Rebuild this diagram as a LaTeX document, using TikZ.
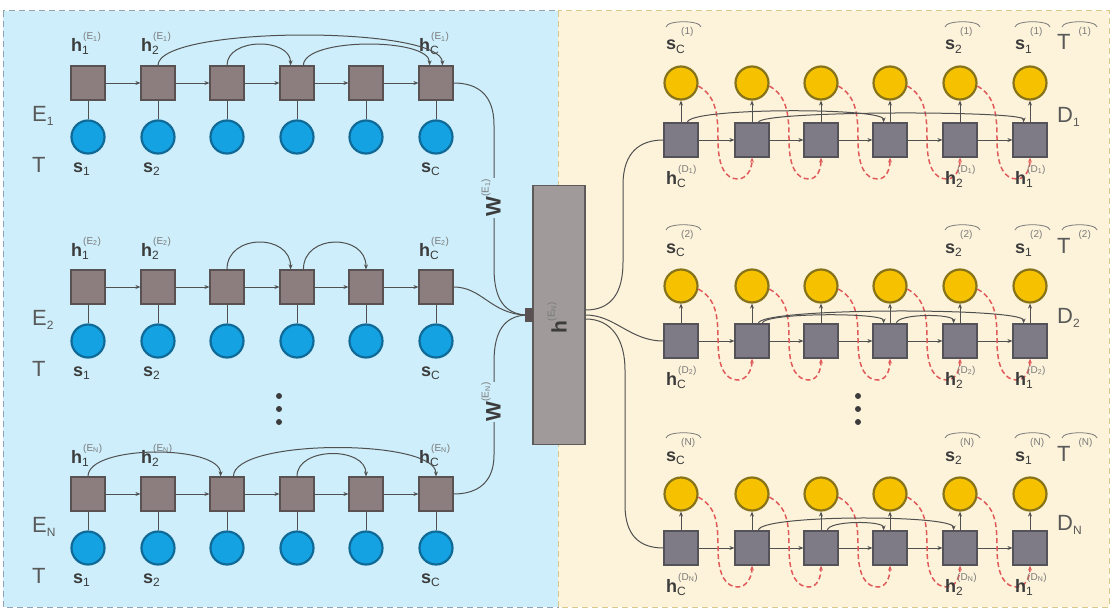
\documentclass[tikz,border=0pt]{standalone}
\usepackage{fontspec}
\setmainfont{Liberation Sans}
\usetikzlibrary{arrows.meta}
\definecolor{lblue}{HTML}{CDEEFA}
\definecolor{lyel}{HTML}{FDF3DA}
\definecolor{bdash}{HTML}{8FA3B0}
\definecolor{ydash}{HTML}{D8C98A}
\definecolor{ebfill}{HTML}{8C7E7E}
\definecolor{ebdraw}{HTML}{5A5252}
\definecolor{dbfill}{HTML}{7E7A86}
\definecolor{dbdraw}{HTML}{55535A}
\definecolor{bcfill}{HTML}{15A2E2}
\definecolor{bcdraw}{HTML}{106A98}
\definecolor{ycfill}{HTML}{F6C200}
\definecolor{ycdraw}{HTML}{86731A}
\definecolor{connc}{HTML}{505050}
\definecolor{redd}{HTML}{E05A5A}
\definecolor{txt}{HTML}{3C3C3C}
\definecolor{supc}{HTML}{7A7A7A}
\definecolor{hfill}{HTML}{A09A9A}
\definecolor{hdraw}{HTML}{5E5A5A}
\newcommand{\supf}{\fontsize{10}{10}\selectfont\color{supc}}
\newcommand{\subf}{\fontsize{12}{12}\selectfont}
\newcommand{\hlab}[3]{\textbf{#1}\rlap{\raisebox{12pt}{\hspace{1pt}\supf(#3)}}\raisebox{-3pt}{\subf #2}}
\newcommand{\hatlab}[3]{\textbf{#1}\rlap{\raisebox{16pt}{\hspace{5pt}\supf(#3)}}\raisebox{-3pt}{\subf #2}}
\begin{document}
\begin{tikzpicture}[x=1pt,y=-1pt,
  ebox/.style={draw=ebdraw, fill=ebfill, line width=1.2pt, minimum size=34pt, inner sep=0pt},
  dbox/.style={draw=dbdraw, fill=dbfill, line width=1.2pt, minimum size=34pt, inner sep=0pt},
  bcirc/.style={circle, draw=bcdraw, fill=bcfill, line width=2.2pt, minimum size=33pt, inner sep=0pt},
  ycirc/.style={circle, draw=ycdraw, fill=ycfill, line width=2.2pt, minimum size=33pt, inner sep=0pt},
  conn/.style={draw=connc, line width=1pt},
  arr/.style={-{Stealth[length=5pt,width=4pt]}},
  reddash/.style={draw=redd, line width=1.5pt, dash pattern=on 5pt off 3pt, -{Stealth[length=5pt,width=4pt]}},
  lab/.style={anchor=base west, inner sep=0pt, text=txt, font=\fontsize{18}{18}\selectfont},
  biglab/.style={anchor=base west, inner sep=0pt, text=txt!85, font=\fontsize{22}{22}\selectfont},
  hatarc/.style={draw=supc, line width=0.8pt},
  wlab/.style={rotate=90, inner sep=1pt, text=txt, font=\fontsize{21}{21}\selectfont}
]
\useasboundingbox (0,0) rectangle (1116,610);
\fill[white] (0,0) rectangle (1116,610);
\filldraw[fill=lblue, draw=bdash, line width=1pt, dash pattern=on 6pt off 4pt] (3,11) rectangle (558,607);
\filldraw[fill=lyel, draw=ydash, line width=1pt, dash pattern=on 6pt off 4pt] (558,11) rectangle (1109,607);

% ---------------- encoders
\foreach \rr/\by/\cy/\nn in {1/83/137/1,2/287/341/2,3/494/548/N}{
  \foreach \i/\x in {1/88,2/158,3/227,4/297,5/366,6/436}{
    \node[ebox] (e\rr\i) at (\x,\by) {};
    \node[bcirc] (es\rr\i) at (\x,\cy) {};
    \draw[conn] (es\rr\i) -- (e\rr\i);
  }
  \foreach \i/\j in {1/2,2/3,3/4,4/5,5/6} \draw[conn,arr] (e\rr\i) -- (e\rr\j);
  \foreach \i/\x/\sb in {1/88/1,2/158/2,6/436/C}{
    \node[lab] (eh\rr\i) at (\x-17,\by-31) {\hlab{h}{\sb}{E\textsubscript{\nn}}};
    \node[lab] (esl\rr\i) at (\x-15,\cy+35) {\textbf{s}\raisebox{-3pt}{\subf \sb}};
  }
  \node[biglab] (E\rr) at (32,\cy-16) {E\raisebox{-4pt}{\subf\nn}};
  \node[biglab] (T\rr) at (32,\cy+35) {T};
}
% encoder skip arcs
\draw[conn,arr] (e12.north) .. controls +(0,-40) and +(0,-40) .. (e16.70);
\draw[conn,arr] (e13.north) .. controls +(0,-28) and +(0,-28) .. (e14.110);
\draw[conn,arr] (e14.70) .. controls +(0,-28) and +(0,-28) .. (e16.110);
\draw[conn,arr] (e23.north) .. controls +(0,-36) and +(0,-36) .. (e24.110);
\draw[conn,arr] (e24.70) .. controls +(0,-36) and +(0,-36) .. (e25.north);
\draw[conn,arr] (e31.north) .. controls +(0,-32) and +(0,-32) .. (e33.110);
\draw[conn,arr] (e33.70) .. controls +(0,-38) and +(0,-38) .. (e36.north);
\draw[conn,arr] (e34.north) .. controls +(0,-30) and +(0,-30) .. (e35.north);

% ---------------- central code
\node[draw=hdraw, fill=hfill, line width=1.2pt, minimum width=52pt, minimum height=259pt, inner sep=0pt] (H) at (559,315) {};
\node[fill=ebdraw, minimum width=8pt, minimum height=14pt, inner sep=0pt] (Hin) at (529,315) {};
\node[wlab] (Hlab) at (557,318) {\textbf{h}\raisebox{12pt}{\supf(E\textsubscript{N})}};

\draw[conn] (e16.east) .. controls (478,83) and (494,95) .. (494,125) -- (494,268) .. controls (494,300) and (505,313) .. (Hin.west);
\draw[conn] (e26.east) .. controls (482,287) and (490,313) .. (Hin.west);
\draw[conn] (e36.east) .. controls (478,494) and (494,482) .. (494,455) -- (494,362) .. controls (494,330) and (505,317) .. (Hin.west);
\node[wlab, fill=lblue] (W1) at (491,198) {\textbf{W}\raisebox{12pt}{\supf(E\textsubscript{1})}};
\node[wlab, fill=lblue] (WN) at (491,402) {\textbf{W}\raisebox{12pt}{\supf(E\textsubscript{N})}};

% ---------------- decoders
\foreach \rr/\by/\cy/\nn in {1/140/83/1,2/341/286/2,3/548/494/N}{
  \foreach \i/\x in {1/681,2/752,3/821,4/890,5/960,6/1030}{
    \node[dbox] (d\rr\i) at (\x,\by) {};
    \node[ycirc] (dc\rr\i) at (\x,\cy) {};
    \draw[conn,arr] (d\rr\i) -- (dc\rr\i);
  }
  \foreach \i/\j in {1/2,2/3,3/4,4/5,5/6} \draw[conn,arr] (d\rr\i) -- (d\rr\j);
  \foreach \i/\j/\x in {1/2/681,2/3/752,3/4/821,4/5/890,5/6/960}
    \draw[reddash] (dc\rr\i.-10) .. controls +(18,10) and +(0,-25) .. (\x+37,\by) .. controls +(0,28) and +(-12,0) .. (\x+57,\by+39) .. controls +(8,0) and +(0,12) .. (d\rr\j.south);
  \foreach \i/\x/\sb in {1/681/C,5/960/2,6/1030/1}{
    \node[lab] (dsl\rr\i) at (\x-15,\cy-33) {\hatlab{s}{\sb}{\nn}};
    \draw[hatarc] ([shift={(0,-23)}]dsl\rr\i.base west) .. controls +(1,-7) and +(-1,-7) .. ++(35,0);
    \node[lab] (dhl\rr\i) at (\x-15,\by+44) {\hlab{h}{\sb}{D\textsubscript{\nn}}};
  }
  \node[biglab] (TT\rr) at (1057,\cy-33) {T\hspace{8pt}\raisebox{16pt}{\supf(\nn)}};
  \draw[hatarc] ([shift={(5,-23)}]TT\rr.base west) .. controls +(1,-7) and +(-1,-7) .. ++(35,0);
  \node[biglab] (D\rr) at (1057,\by-18) {D\raisebox{-4pt}{\subf\nn}};
}
% decoder skip arcs
\draw[conn,arr] (d11.70) .. controls +(0,-15) and +(0,-15) .. (d14.110);
\draw[conn,arr] (d12.70) .. controls +(0,-12) and +(0,-12) .. (d16.110);
\draw[conn,arr] (d22.70) .. controls +(0,-16) and +(0,-16) .. (d26.110);
\draw[conn,arr] (d22.60) .. controls +(0,-11) and +(0,-11) .. (d24.110);
\draw[conn,arr] (d24.70) .. controls +(0,-10) and +(0,-10) .. (d25.110);
\draw[conn,arr] (d32.70) .. controls +(0,-16) and +(0,-16) .. (d35.110);
\draw[conn,arr] (d33.70) .. controls +(0,-10) and +(0,-10) .. (d34.110);

% decoder inputs
\draw[conn] ([yshift=5pt]H.east) .. controls (612,310) and (623,292) .. (623,262) -- (623,185) .. controls (623,152) and (640,140) .. (d11.west);
\draw[conn] (H.east) .. controls (615,315) and (630,341) .. (d21.west);
\draw[conn] ([yshift=-4pt]H.east) .. controls (612,319) and (625,340) .. (625,370) -- (625,505) .. controls (625,536) and (640,548) .. (d31.west);

% ellipses
\foreach \y [count=\k] in {396,409,422}{
  \node[circle, fill=txt, inner sep=0pt, minimum size=6pt] (ldot\k) at (279,\y) {};
  \node[circle, fill=txt, inner sep=0pt, minimum size=6pt] (rdot\k) at (858,\y) {};
}
\end{tikzpicture}
\end{document}
